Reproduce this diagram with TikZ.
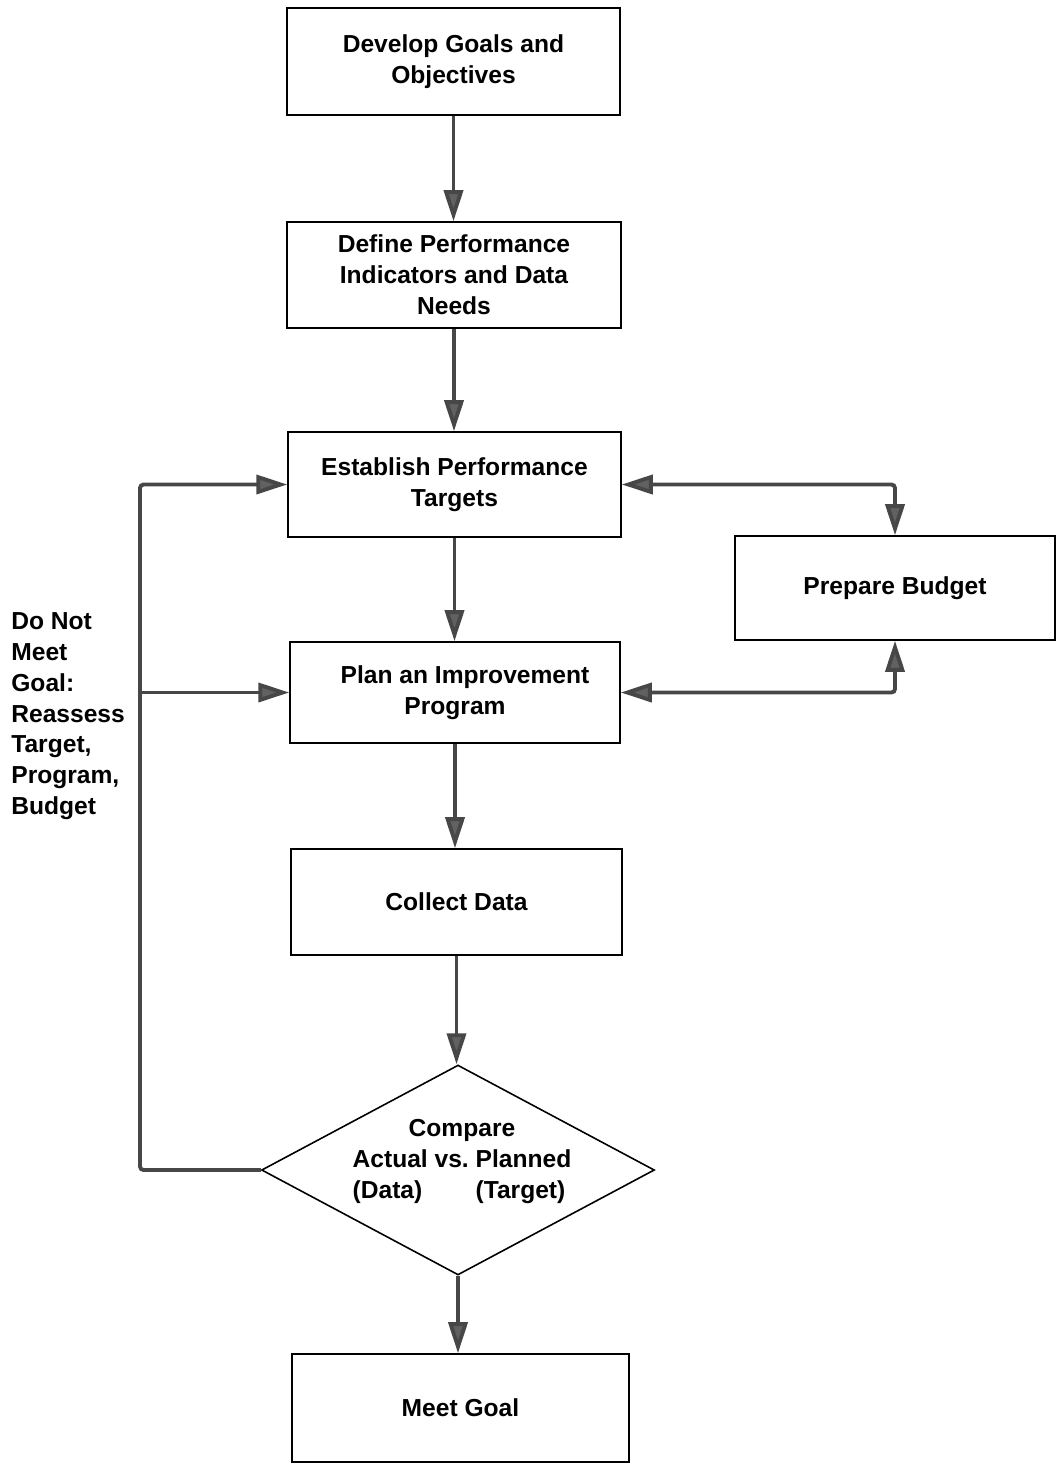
\documentclass[tikz,border=0pt]{standalone}
\usepackage{fontspec}
\setmainfont{Liberation Sans}
\usetikzlibrary{arrows.meta,shapes.geometric}

\begin{document}
\begin{tikzpicture}[x=0.02cm,y=-0.02cm,
    font=\fontsize{14pt}{17.6pt}\selectfont\bfseries,
    stepbox/.style={draw=black, line width=0.9pt, align=center, inner sep=2pt},
    decision/.style={draw=black, line width=0.9pt, diamond, inner sep=0pt,
        minimum width=7.86cm, minimum height=4.2cm},
    flow/.style={draw=black!72, line width=2.2pt, rounded corners=2pt,
        -{Triangle[length=0.62cm,width=0.38cm,fill=black!62]}},
    twoway/.style={flow, {Triangle[length=0.62cm,width=0.38cm,fill=black!62]}-{Triangle[length=0.62cm,width=0.38cm,fill=black!62]}}]

    % Fix the page size
    \useasboundingbox (0,0) rectangle (1057,1465);

    % Draw the steps
    \node[stepbox, minimum width=6.66cm, minimum height=2.14cm] (goals) at (453.5,61.5)
        {Develop Goals and\\Objectives};
    \node[stepbox, minimum width=6.68cm, minimum height=2.12cm] (indic) at (454,275)
        {Define Performance\\Indicators and Data\\Needs};
    \node[stepbox, minimum width=6.66cm, minimum height=2.1cm] (target) at (454.5,484.5)
        {Establish Performance\\Targets};
    \node[stepbox, minimum width=6.4cm, minimum height=2.08cm] (budget) at (895,588)
        {Prepare Budget};
    \node[stepbox, minimum width=6.6cm, minimum height=2.02cm] (improve) at (455,692.5)
        {\hspace*{0.4cm}Plan an Improvement\\Program};
    \node[stepbox, minimum width=6.62cm, minimum height=2.12cm] (collect) at (456.5,902)
        {Collect Data};
    \node[decision] (cmp) at (458,1170) {};
    \node (cmptext) at (462,1161)
        {\begin{tabular}{@{}l@{}r@{}}
            \multicolumn{2}{@{}c@{}}{Compare}\\
            \multicolumn{2}{@{}c@{}}{Actual vs.\ Planned}\\
            (Data) & (Target)\hspace*{0.12cm}
         \end{tabular}};
    \node[stepbox, minimum width=6.74cm, minimum height=2.16cm] (meet) at (460.5,1408)
        {Meet Goal};

    % Label the loop back
    \node[align=left, anchor=north west, inner sep=0pt] (fail) at (11,612)
        {Do Not\\Meet\\Goal:\\Reassess\\Target,\\Program,\\Budget};

    % Draw the main flow
    \draw[flow] (goals.south) -- (goals.south |- indic.north);
    \draw[flow] (indic.south) -- (indic.south |- target.north);
    \draw[flow] (target.south) -- (target.south |- improve.north);
    \draw[flow] (improve.south) -- (improve.south |- collect.north);
    \draw[flow] (collect.south) -- (collect.south |- cmp.north);
    \draw[flow] (cmp.south) -- (cmp.south |- meet.north);

    % Draw the loop back
    \coordinate (loopBot) at (140,1170);
    \draw[flow] (cmp.west) -- (loopBot) |- (target.west);
    \draw[flow] (loopBot |- improve.west) -- (improve.west);

    % Draw the budget links
    \draw[twoway] (target.east) -| (budget.north);
    \draw[twoway] (improve.east) -| (budget.south);

\end{tikzpicture}
\end{document}
